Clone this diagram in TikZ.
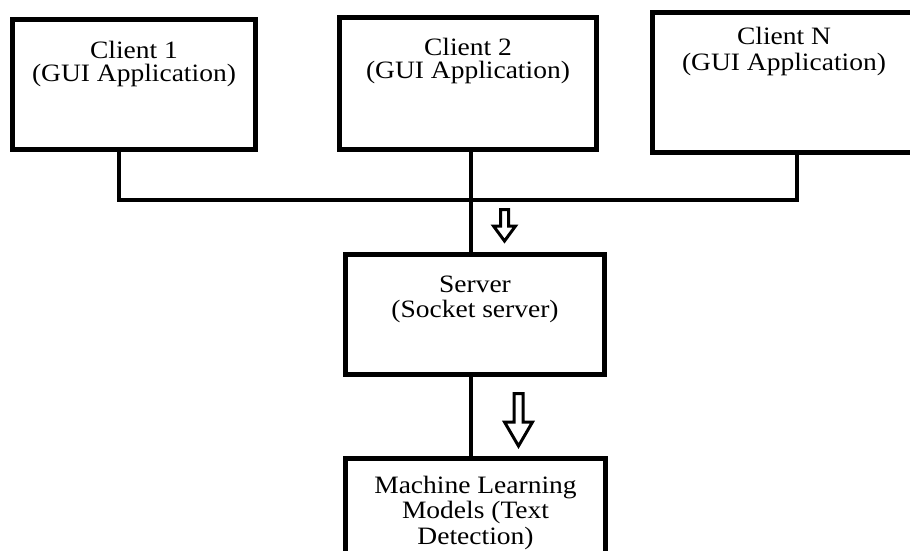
\documentclass[tikz,border=0pt]{standalone}
\usepackage{fontspec}
\setmainfont{Liberation Serif}[FakeStretch=1.1]
\usetikzlibrary{positioning}
\tikzset{
  box/.style={draw,line width=5pt,inner sep=0pt,line join=miter},
  boxtext/.style={inner sep=0pt,align=center,font=\fontsize{25}{23}\selectfont},
  link/.style={line width=4.5pt,line cap=round,line join=miter},
  hollow/.style={line width=3pt,line join=miter,fill=white}
}
\newcommand{\hollowdown}[6]{%
  \draw[hollow] (#1-#4,#2) -- (#1+#4,#2) -- (#1+#4,#3) -- (#1+#5,#3)
    -- (#1,#6) -- (#1-#5,#3) -- (#1-#4,#3) -- cycle;}
\begin{document}
\begin{tikzpicture}[x=1pt,y=-1pt]
\useasboundingbox (0,0) rectangle (910,550);
\clip (0,0) rectangle (910,550);
\node[box,minimum width=243pt,minimum height=130pt] (c1) at (134,84.5) {};
\node[box,minimum width=257pt,minimum height=132pt] (c2) at (468,83.5) {};
\node[box,minimum width=263pt,minimum height=140pt] (cN) at (784,82.5) {};
\node[box,minimum width=259pt,minimum height=120pt] (srv) at (475,314.5) {};
\node[box,minimum width=260pt,minimum height=142pt] (ml) at (475.5,529) {};
\node[boxtext,below=24pt of c1.north] (c1txt) {Client 1\\(GUI Application)};
\node[boxtext,below=23pt of c2.north] (c2txt) {Client 2\\(GUI Application)};
\node[boxtext,below=17pt of cN.north,font=\fontsize{25}{26}\selectfont] (cNtxt) {Client N\\(GUI Application)};
\node[boxtext,below=23.5pt of srv.north,font=\fontsize{25}{25}\selectfont] (srvtxt) {Server\\(Socket server)};
\node[boxtext,below=20pt of ml.north,font=\fontsize{25}{25.5}\selectfont] (mltxt) {Machine Learning\\Models (Text\\Detection)};
\coordinate (j1) at (119,200);
\coordinate (j2) at (471,200);
\coordinate (jN) at (797,200);
\draw[link] (j1 |- c1.south) -- (j1) -- (jN) -- (jN |- cN.south);
\draw[link] (j2 |- c2.south) -- (j2 |- srv.north);
\draw[link] (j2 |- srv.south) -- (j2 |- ml.north);
\hollowdown{504.5}{209.5}{226}{4}{11}{241}
\hollowdown{518.5}{393.5}{422}{4.5}{14}{446}
\end{tikzpicture}
\end{document}
